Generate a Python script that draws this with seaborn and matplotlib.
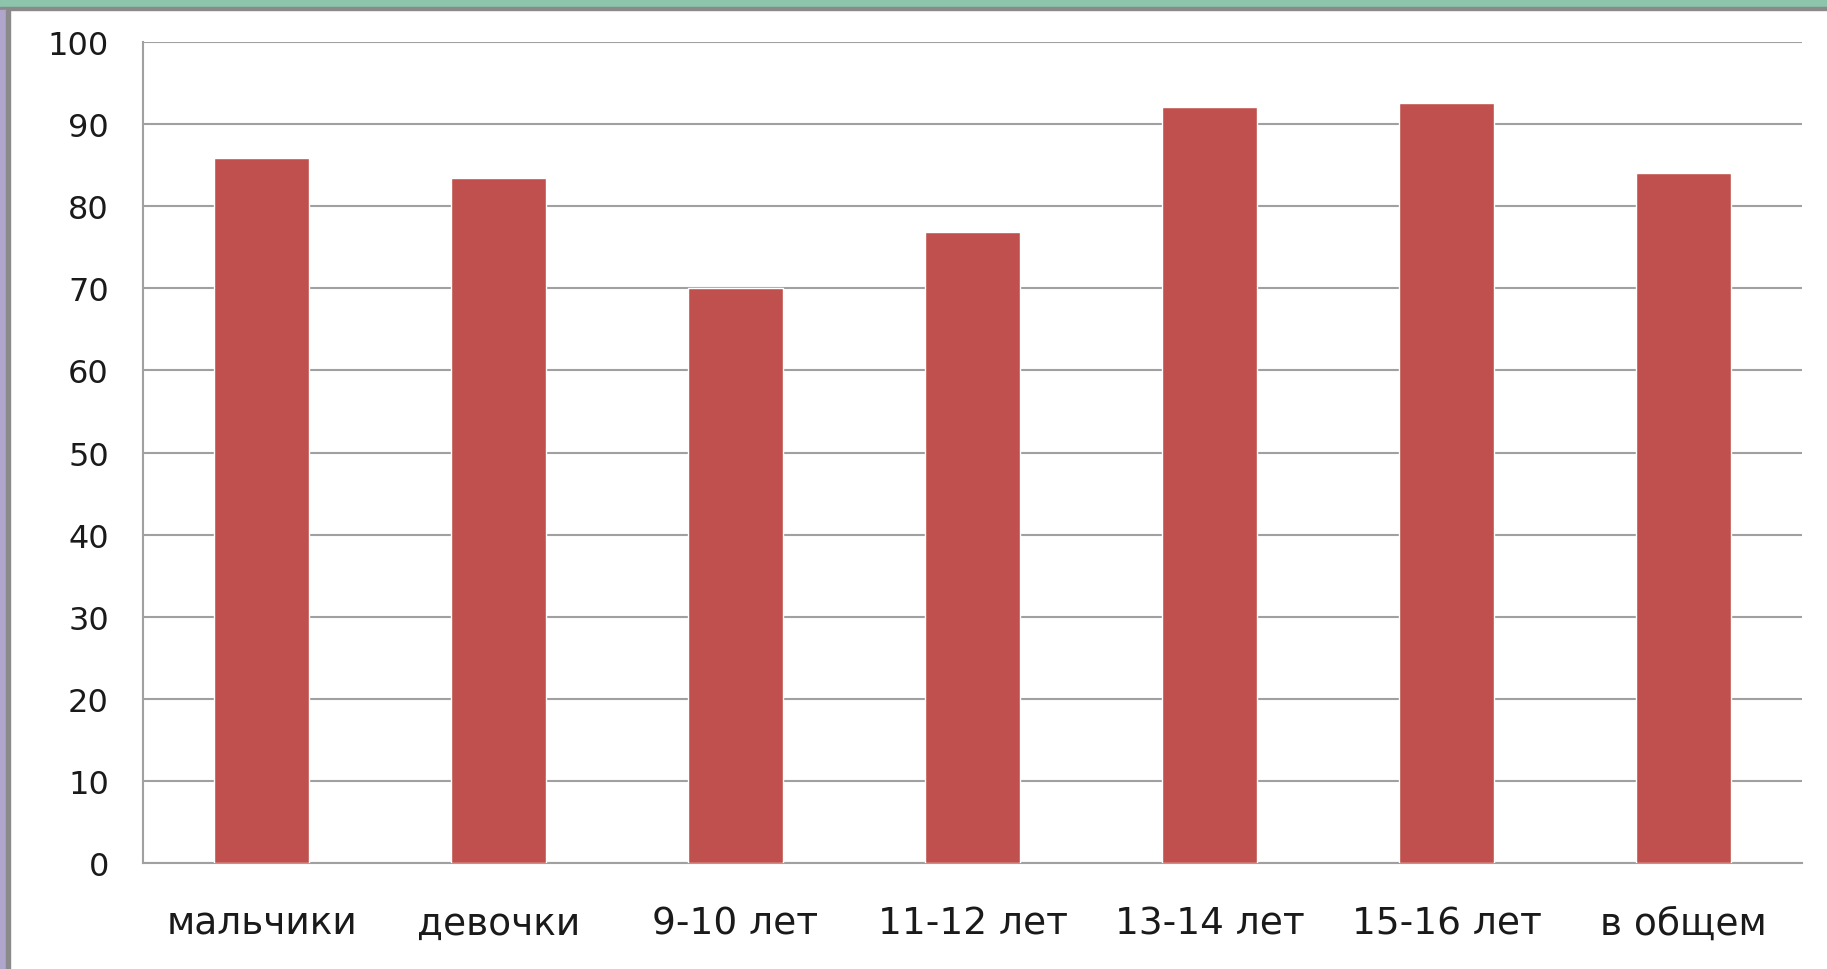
import matplotlib
matplotlib.use('Agg')
import matplotlib.pyplot as plt
import seaborn as sns
import pandas as pd
from matplotlib.patches import Rectangle


categories = ['мальчики', 'девочки', '9-10 лет', '11-12 лет', '13-14 лет', '15-16 лет', 'в общем']
values = [85.9, 83.4, 70.0, 76.9, 92.1, 92.6, 84.1]
yticks = [0, 10, 20, 30, 40, 50, 60, 70, 80, 90, 100]

df = pd.DataFrame({'group': categories, 'value': values})

sns.set_style('white')
plt.rcParams['font.family'] = ['DejaVu Sans']

fig = plt.figure(figsize=(18.27, 9.70), dpi=100)

# slide frame: green strip on top, purple strip on the left
fig.patches.append(Rectangle((0, 1 - 8 / 970), 1, 8 / 970, transform=fig.transFigure,
                             color='#8cc4ac', zorder=0))
fig.patches.append(Rectangle((0, 1 - 11 / 970), 1, 3 / 970, transform=fig.transFigure,
                             color='#8a8a8a', zorder=0))
fig.patches.append(Rectangle((0, 0), 6 / 1827, 1 - 11 / 970, transform=fig.transFigure,
                             color='#b0a6cc', zorder=0))
fig.patches.append(Rectangle((6 / 1827, 0), 4 / 1827, 1 - 11 / 970, transform=fig.transFigure,
                             color='#8a8a8a', zorder=0))

ax = fig.add_axes([143 / 1827, 1 - 864 / 970, (1802 - 143) / 1827, (864 - 43) / 970])
sns.barplot(data=df, x='group', y='value', color='#c0504d', width=0.4,
            saturation=1, ax=ax, zorder=3)

ax.set_ylim(0, 100)
ax.set_xlim(-0.5, len(categories) - 0.5)
ax.set_yticks(yticks)
ax.yaxis.grid(True, color='#a0a0a0', linewidth=1.5, zorder=0)
ax.set_axisbelow(True)
ax.set(xlabel='', ylabel='')

for side in ['top', 'right']:
    ax.spines[side].set_visible(False)
for side in ['left', 'bottom']:
    ax.spines[side].set_color('#a0a0a0')
    ax.spines[side].set_linewidth(1.5)

ax.tick_params(axis='y', length=8.6, width=1.5, color='#a0a0a0', pad=16,
               labelsize=23, labelcolor='#1a1a1a')
ax.set_xticks([i - 0.5 for i in range(len(categories) + 1)], minor=True)
ax.tick_params(axis='x', which='minor', length=9.5, width=1.5, color='#a0a0a0')
ax.tick_params(axis='x', which='major', length=0, pad=30.5, labelsize=27,
               labelcolor='#1a1a1a')

fig.savefig('out.png', dpi=100)
plt.close(fig)
